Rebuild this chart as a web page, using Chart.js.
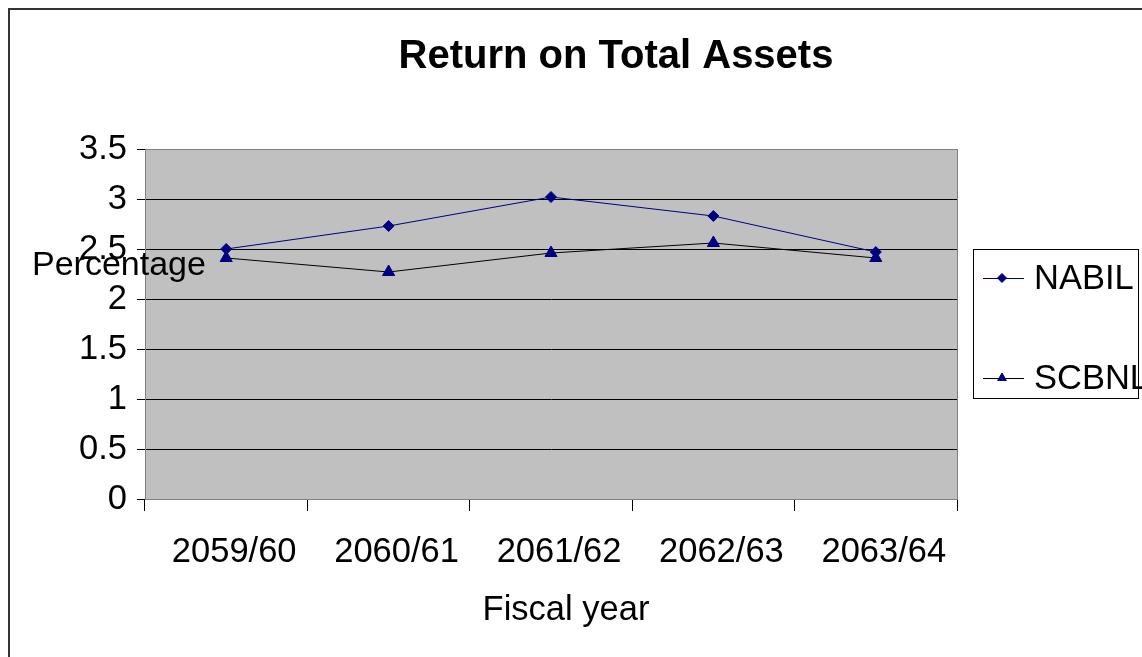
<!DOCTYPE html>
<html>
<head>
    <title>Return on Total Assets</title>
    <script src="https://cdn.jsdelivr.net/npm/chart.js"></script>
    <style>
        body {
            margin: 0;
            background-color: #ffffff;
        }
        #wrap {
            width: 1142px;
            height: 657px;
        }
    </style>
</head>
<body>

    <div id="wrap">
        <canvas id="roaChart" width="1142" height="657"></canvas>
    </div>

    <script>
        const fiscalYears = ['2059/60', '2060/61', '2061/62', '2062/63', '2063/64'];
        const nabil = [2.50, 2.73, 3.02, 2.83, 2.47];
        const scbnl = [2.41, 2.27, 2.46, 2.56, 2.41];

        const FONT = '"Liberation Sans", Arial, sans-serif';

        // gray plot background, outer frame, title, axis titles and legend box
        const excelLook = {
            id: 'excelLook',
            beforeDraw(chart) {
                const ctx = chart.ctx;
                const a = chart.chartArea;
                ctx.save();
                ctx.fillStyle = '#ffffff';
                ctx.fillRect(0, 0, chart.width, chart.height);
                ctx.fillStyle = '#c0c0c0';
                ctx.fillRect(a.left, a.top, a.right - a.left, a.bottom - a.top);
                ctx.restore();
            },
            afterDraw(chart) {
                const ctx = chart.ctx;
                const a = chart.chartArea;
                ctx.save();

                // plot frame
                ctx.strokeStyle = '#808080';
                ctx.lineWidth = 1;
                ctx.strokeRect(a.left + 0.5, a.top + 0.5, a.right - a.left, a.bottom - a.top);

                // outer chart border
                ctx.strokeStyle = '#333333';
                ctx.lineWidth = 2;
                ctx.beginPath();
                ctx.moveTo(9, chart.height + 5);
                ctx.lineTo(9, 9);
                ctx.lineTo(chart.width + 5, 9);
                ctx.stroke();

                ctx.fillStyle = '#000000';
                ctx.textBaseline = 'middle';
                ctx.textAlign = 'center';
                ctx.font = 'bold 40px ' + FONT;
                ctx.fillText('Return on Total Assets', 616, 57);

                ctx.font = '34.5px ' + FONT;
                ctx.fillText('Fiscal year', 566, 610);

                ctx.textAlign = 'left';
                ctx.font = '34px ' + FONT;
                ctx.fillText('Percentage', 32, 266);

                // legend
                ctx.strokeStyle = '#000000';
                ctx.lineWidth = 1;
                ctx.strokeRect(973.5, 249.5, 165, 149);

                ctx.font = '34.5px ' + FONT;
                const rows = [278, 378];
                chart.data.datasets.forEach((ds, i) => {
                    const y = rows[i];
                    ctx.strokeStyle = ds.borderColor;
                    ctx.lineWidth = 1;
                    ctx.beginPath();
                    ctx.moveTo(983, y + 0.5);
                    ctx.lineTo(1024, y + 0.5);
                    ctx.stroke();
                    ctx.fillStyle = ds.pointBackgroundColor;
                    ctx.strokeStyle = ds.pointBorderColor;
                    Chart.helpers.drawPoint(ctx, {
                        pointStyle: ds.pointStyle,
                        radius: ds.pointStyle === 'triangle' ? 5 : 4.5,
                        rotation: 0,
                        borderWidth: 1
                    }, 1002, y);
                    ctx.fillStyle = '#000000';
                    ctx.fillText(ds.label, 1034, y + 1);
                });
                ctx.restore();
            }
        };

        const config = {
            type: 'line',
            data: {
                labels: fiscalYears,
                datasets: [{
                    label: 'NABIL',
                    data: nabil,
                    borderColor: '#000080',
                    borderWidth: 1,
                    pointStyle: 'rectRot',
                    pointRadius: 5.5,
                    pointBackgroundColor: '#000080',
                    pointBorderColor: '#000080',
                    tension: 0
                }, {
                    label: 'SCBNL',
                    data: scbnl,
                    borderColor: '#000000',
                    borderWidth: 1,
                    pointStyle: 'triangle',
                    pointRadius: 7,
                    pointBackgroundColor: '#000080',
                    pointBorderColor: '#000080',
                    tension: 0
                }]
            },
            options: {
                responsive: false,
                animation: false,
                layout: {
                    padding: { top: 149, right: 185, bottom: 0, left: 0 }
                },
                plugins: {
                    legend: { display: false },
                    title: { display: false },
                    tooltip: { enabled: false }
                },
                scales: {
                    x: {
                        offset: true,
                        afterFit: s => { s.height = 158; },
                        grid: {
                            offset: true,
                            drawOnChartArea: false,
                            drawTicks: true,
                            tickLength: 12,
                            color: '#000000'
                        },
                        border: { color: '#808080' },
                        ticks: {
                            padding: 21,
                            labelOffset: 8,
                            color: '#000000',
                            maxRotation: 0,
                            font: { family: FONT, size: 34.5 }
                        }
                    },
                    y: {
                        min: 0,
                        max: 3.5,
                        afterFit: s => { s.width = 145; },
                        grid: {
                            color: '#000000',
                            tickLength: 8
                        },
                        border: { color: '#808080' },
                        ticks: {
                            stepSize: 0.5,
                            padding: 10,
                            color: '#000000',
                            font: { family: FONT, size: 34.5 },
                            callback: v => String(v)
                        }
                    }
                }
            },
            plugins: [excelLook]
        };

        const ctx = document.getElementById('roaChart').getContext('2d');
        const chart = new Chart(ctx, config);
    </script>
</body>
</html>
